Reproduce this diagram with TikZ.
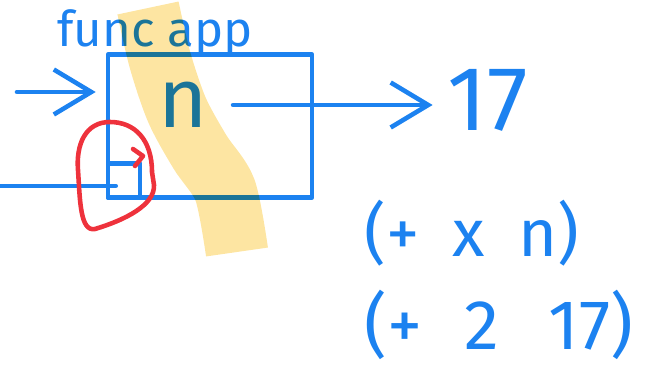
\documentclass[tikz,border=0pt]{standalone}
\usepackage{fontspec}
\setmainfont{Fira Sans}
\usetikzlibrary{arrows.meta,positioning}
\definecolor{ink}{RGB}{28,130,240}
\definecolor{redink}{RGB}{238,50,60}
\definecolor{marker}{RGB}{252,212,100}

\begin{document}
\begin{tikzpicture}[
  x=0.02cm,y=-0.02cm,
  >={Straight Barb[length=0.75cm,width=0.9cm]},
  pen/.style={draw=ink,line width=2.6pt,line cap=round,line join=round},
  redpen/.style={draw=redink,line width=2.6pt,line cap=round,line join=round},
  hl/.style={draw=marker,line width=1.25cm,opacity=0.6,line cap=butt},
  word/.style={text=ink,inner sep=0pt}
]
\useasboundingbox (0,0) rectangle (647,375);
% the box
\node[pen,minimum width=4.08cm,minimum height=2.86cm] (fn) at (210,126) {};
\node[word,font=\fontsize{28}{30}\selectfont] (lbl) at (155,33) {func app};
\node[word,font=\fontsize{48}{50}\selectfont] (n) at (183,105) {n};
\node[word,font=\fontsize{52}{52}\selectfont] (res) at (488,100) {17};
\node[pen,minimum width=0.64cm,minimum height=0.68cm,anchor=south west] (arg) at (fn.south west) {};
% wires
\coordinate (in) at (17,92);
\coordinate (argin) at (0,186);
\draw[pen,->,shorten >=0.2cm] (in) -- (in -| fn.west);
\draw[pen,->,shorten <=0.5cm,shorten >=0.3cm] (n.east) -- (n.east -| res.west);
\draw[pen] (argin) -- ([xshift=0.2cm]argin -| arg.west);
% red loop
\draw[redpen] (152,172) .. controls (152,140) and (135,122) .. (110,122)
  .. controls (85,122) and (76,145) .. (78,170)
  .. controls (80,200) and (80,232) .. (95,229)
  .. controls (125,220) and (155,205) .. (154,185) -- cycle;
\draw[redpen] (133,149) -- (143,156) -- (135,166);
% expressions
\node[word,font=\fontsize{38}{42}\selectfont] (e1) at (472,233) {(+\hspace{0.5em}x\hspace{0.5em}n)};
\node[word,font=\fontsize{40}{44}\selectfont] (e2) at (499,325) {(+\hspace{0.6em}2\hspace{0.7em}17)};
% highlighter stroke
\begin{scope}[blend mode=multiply]
\draw[hl] plot[smooth] coordinates {(148,8) (160,60) (177,110) (200,152) (225,190) (237,252)};
\end{scope}
\end{tikzpicture}
\end{document}
